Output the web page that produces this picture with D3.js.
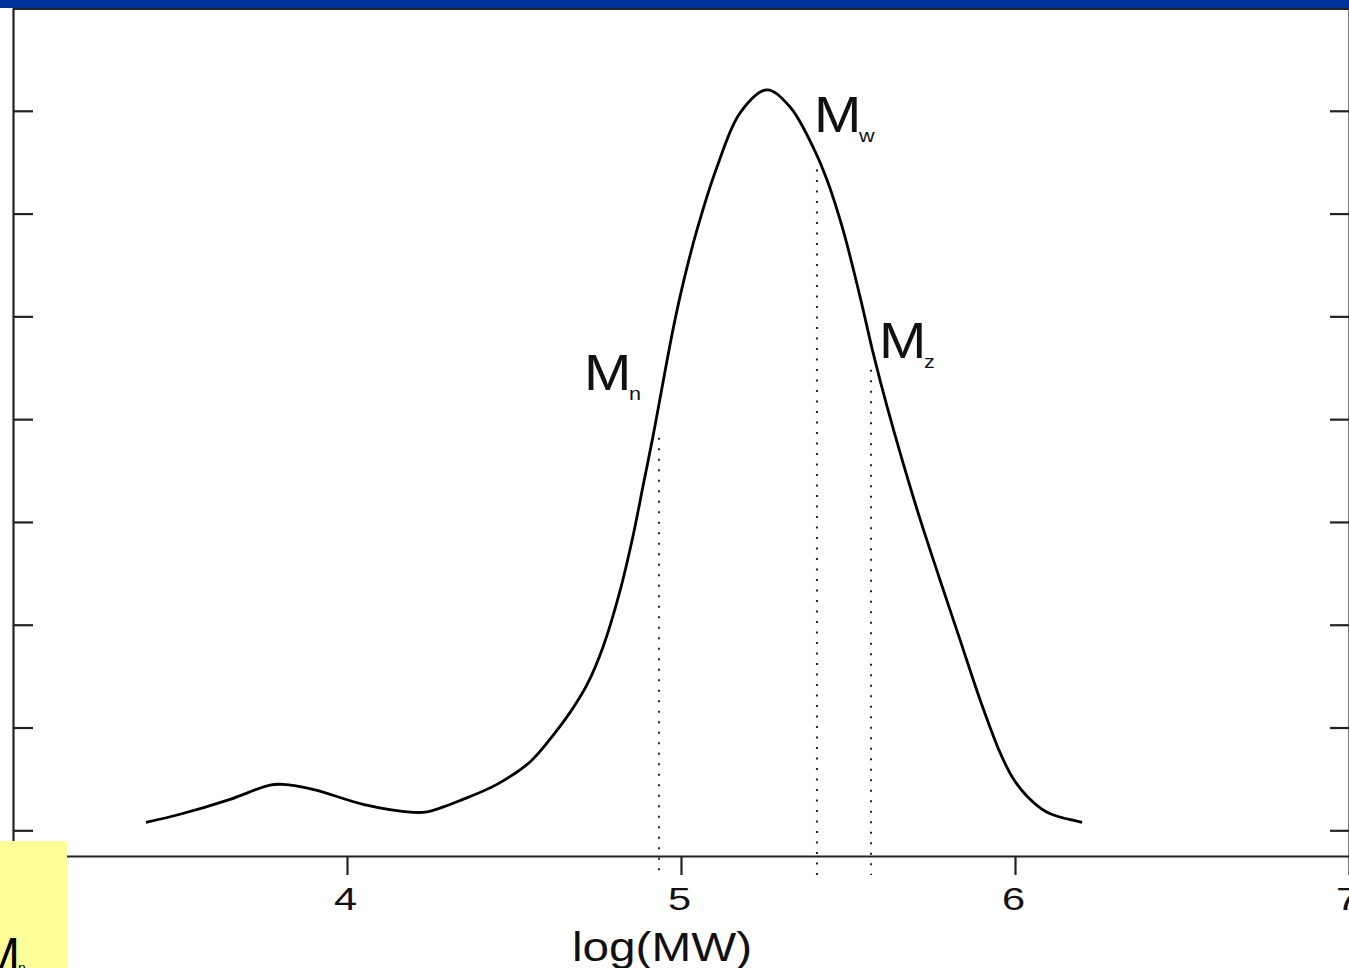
<!DOCTYPE html>
<html>
<head>
<meta charset="utf-8">
<script src="https://cdn.jsdelivr.net/npm/d3@7"></script>
<style>
    html, body { margin: 0; padding: 0; background: #fff; overflow: hidden; }
    svg { display: block; font-family: "Liberation Sans", Arial, sans-serif; }
</style>
</head>
<body>
<div id="chart"></div>
<script>
// molecular weight distribution
const logMW = [3.398, 3.500, 3.650, 3.769, 3.808, 3.898, 4.048, 4.198, 4.240, 4.347, 4.449,
    4.548, 4.617, 4.668, 4.719, 4.766, 4.817, 4.856, 4.886, 4.916, 4.976, 5.009,
    5.048, 5.108, 5.177, 5.257, 5.326, 5.395, 5.437, 5.485, 5.536, 5.575, 5.617, 5.704,
    5.775, 5.835, 5.895, 5.955, 5.994, 6.036, 6.096, 6.201];
const weight = [0.078, 0.156, 0.301, 0.440, 0.447, 0.399, 0.253, 0.175, 0.180, 0.301, 0.447,
    0.665, 0.924, 1.147, 1.419, 1.779, 2.324, 2.858, 3.344, 3.830, 4.871, 5.357,
    5.843, 6.455, 6.980, 7.204, 7.039, 6.650, 6.329, 5.843, 5.192, 4.647, 4.122, 3.150,
    2.440, 1.857, 1.274, 0.758, 0.506, 0.331, 0.175, 0.078];

const xTicks = [4, 5, 6, 7];
const yTicks = [0, 1, 2, 3, 4, 5, 6, 7];

// average molecular weights (dotted markers)
const momentNames = ['n', 'w', 'z'];
const momentValues = [4.934, 5.407, 5.569];
const momentTops = [3.82, 6.43, 4.48];

const W = 1349, H = 968;

const svg = d3.select('#chart').append('svg')
    .attr('width', W)
    .attr('height', H);

svg.append('rect').attr('width', W).attr('height', H).attr('fill', '#fff');

const x = d3.scaleLinear().domain([3, 7]).range([13, 1349]);
const y = d3.scaleLinear().domain([-0.25, 8]).range([856, 8]);

// title bar strip
svg.append('rect')
    .attr('x', 0).attr('y', 0)
    .attr('width', W).attr('height', 8)
    .attr('fill', '#003399');
svg.append('line')
    .attr('x1', 13).attr('x2', W)
    .attr('y1', 9).attr('y2', 9)
    .attr('stroke', '#222').attr('stroke-width', 2);

const axisStyle = g => {
    g.selectAll('path, line').attr('stroke', '#222').attr('stroke-width', 2.2);
};

svg.append('g')
    .attr('transform', `translate(${x(3)},0)`)
    .call(d3.axisRight(y).tickValues(yTicks).tickSize(20).tickSizeOuter(0).tickFormat(''))
    .call(axisStyle);

svg.append('g')
    .attr('transform', `translate(${x(7)},0)`)
    .call(d3.axisLeft(y).tickValues(yTicks).tickSize(19).tickSizeOuter(0).tickFormat(''))
    .call(axisStyle);

const xAxis = svg.append('g')
    .attr('transform', `translate(0,${y(-0.25)})`)
    .call(d3.axisBottom(x).tickValues(xTicks).tickSize(19).tickSizeOuter(0)
        .tickPadding(12).tickFormat(d3.format('d')))
    .call(axisStyle);

xAxis.selectAll('text')
    .attr('fill', '#111')
    .attr('font-size', 32)
    .attr('font-family', '"Liberation Sans", Arial, sans-serif')
    .attr('transform', 'translate(-2,0) scale(1.3,1)');

svg.append('text')
    .attr('x', 572)
    .attr('y', 961)
    .attr('font-size', 40)
    .attr('fill', '#111')
    .attr('textLength', 180)
    .attr('lengthAdjust', 'spacingAndGlyphs')
    .text('log(MW)');

// dotted marker lines
svg.selectAll('line.moment')
    .data(momentValues)
    .enter().append('line')
    .attr('class', 'moment')
    .attr('x1', d => x(d)).attr('x2', d => x(d))
    .attr('y1', (d, i) => y(momentTops[i]))
    .attr('y2', y(-0.25) + 19)
    .attr('stroke', '#222')
    .attr('stroke-width', 2)
    .attr('stroke-dasharray', '2,8.5');

// distribution curve
const line = d3.line()
    .x(d => x(d[0]))
    .y(d => y(d[1]))
    .curve(d3.curveCatmullRom);

svg.append('path')
    .datum(d3.zip(logMW, weight))
    .attr('d', line)
    .attr('fill', 'none')
    .attr('stroke', '#000')
    .attr('stroke-width', 2.8)
    .attr('stroke-linejoin', 'round');

// labels M_n, M_w, M_z (offsets in px from marker line)
const labelOffset = [[-75, 390], [-3, 132], [8, 358]];

const labels = svg.selectAll('g.mlabel')
    .data(momentNames)
    .enter().append('g')
    .attr('class', 'mlabel')
    .attr('transform', (d, i) => `translate(${x(momentValues[i]) + labelOffset[i][0]},${labelOffset[i][1]})`);

labels.append('text')
    .attr('transform', 'scale(1.16,1)')
    .attr('font-size', 49)
    .attr('fill', '#111')
    .text('M');

labels.append('text')
    .attr('transform', 'translate(45,10) scale(1.2,1)')
    .attr('font-size', 18)
    .attr('fill', '#111')
    .text(d => d);

// yellow note box in the corner
svg.append('rect')
    .attr('x', 0).attr('y', 841)
    .attr('width', 67).attr('height', H - 841)
    .attr('fill', '#ffff99');
svg.append('text')
    .attr('x', -20).attr('y', 971)
    .attr('font-size', 48)
    .attr('fill', '#000')
    .text('M');
svg.append('text')
    .attr('x', 18).attr('y', 973)
    .attr('font-size', 14)
    .attr('fill', '#000')
    .text('n');
</script>
</body>
</html>
